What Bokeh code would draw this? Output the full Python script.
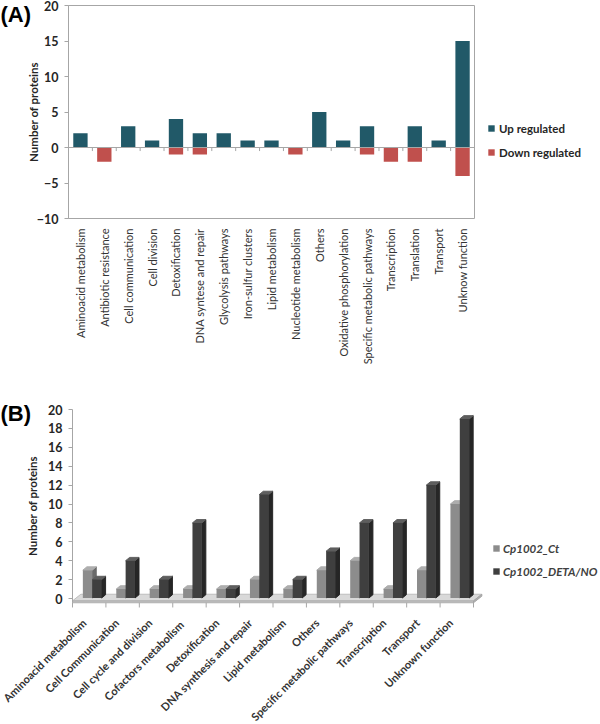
import math
from bokeh.plotting import figure
from bokeh.layouts import column
from bokeh.models import (Range1d, Legend, LegendItem, Label, FixedTicker, ColumnDataSource)
from bokeh.embed import file_html
from bokeh.resources import INLINE

# ---------------- data ----------------
cats_a = ["Aminoacid metabolism", "Antibiotic resistance", "Cell communication",
          "Cell division", "Detoxification", "DNA syntese and repair",
          "Glycolysis pathways", "Iron-sulfur clusters", "Lipid metabolism",
          "Nucleotide metabolism", "Others", "Oxidative phosphorylation",
          "Specific metabolic pathways", "Transcription", "Translation",
          "Transport", "Unknow function"]
up_a = [2, 0, 3, 1, 4, 2, 2, 1, 1, 0, 5, 1, 3, 0, 3, 1, 15]
down_a = [0, -2, 0, 0, -1, -1, 0, 0, 0, -1, 0, 0, -1, -2, -2, 0, -4]
yticks_a = [-10, -5, 0, 5, 10, 15, 20]

cats_b = ["Aminoacid metabolism", "Cell Communication", "Cell cycle and division",
          "Cofactors  metabolism", "Detoxification", "DNA synthesis and repair",
          "Lipid metabolism", "Others", "Specific metabolic pathways",
          "Transcription", "Transport", "Unknown function"]
ct_b = [3, 1, 1, 1, 1, 2, 1, 3, 4, 1, 3, 10]
deta_b = [2, 4, 2, 8, 1, 11, 2, 5, 8, 8, 12, 19]
yticks_b = [0, 2, 4, 6, 8, 10, 12, 14, 16, 18, 20]

UP = "#215968"
DOWN = "#c0504d"
GRAY = "#a6a6a6"
TXT = "#262626"

W = 600
HA, HB = 376, 348

# ---------------- panel A ----------------
na = len(cats_a)
# plot box in pixels: left 68, right 474, top 5, bottom 218
pxu_a = (474 - 68) / na
pyu_a = (218 - 5) / (yticks_a[-1] - yticks_a[0])
xr_a = Range1d(-68 / pxu_a, (W - 68) / pxu_a)
yr_a = Range1d(yticks_a[0] - (HA - 218) / pyu_a, yticks_a[-1] + 5 / pyu_a)

pa = figure(x_range=xr_a, y_range=yr_a, width=W, height=HA,
            output_backend="svg", toolbar_location=None, min_border=0)
pa.title.visible = False
pa.outline_line_color = None
pa.xgrid.visible = False
pa.ygrid.visible = False

xc_a = [i + 0.5 for i in range(na)]
src_a = ColumnDataSource(dict(x=xc_a, up=up_a, down=down_a, zero=[0] * na))
# plot box
pa.quad(left=0, right=na, bottom=yticks_a[0], top=yticks_a[-1],
        fill_color=None, line_color=GRAY, line_width=1)
r_up = pa.vbar(x="x", top="up", bottom="zero", width=0.6, source=src_a,
               fill_color=UP, line_color=None)
r_dn = pa.vbar(x="x", top="zero", bottom="down", width=0.6, source=src_a,
               fill_color=DOWN, line_color=None)
pa.segment(x0=0, x1=na, y0=0, y1=0, line_color=GRAY, line_width=1)
pa.segment(x0=list(range(1, na)), x1=list(range(1, na)), y0=0, y1=-0.5,
           line_color=GRAY, line_width=1)

ya = pa.yaxis[0]
ya.fixed_location = 0
ya.bounds = (yticks_a[0], yticks_a[-1])
ya.ticker = FixedTicker(ticks=yticks_a)
ya.minor_tick_line_color = None
ya.major_tick_out = 4
ya.major_tick_in = 0
ya.major_tick_line_color = GRAY
ya.axis_line_color = GRAY
ya.major_label_text_font = "Lato"
ya.major_label_text_font_style = "bold"
ya.major_label_text_font_size = "12.5px"
ya.major_label_text_color = TXT
ya.major_label_standoff = 6
ya.axis_label = "Number of proteins"
ya.axis_label_text_font = "Lato"
ya.axis_label_text_font_style = "bold"
ya.axis_label_text_font_size = "11.5px"
ya.axis_label_text_color = TXT
ya.axis_label_standoff = -6

xa = pa.xaxis[0]
xa.fixed_location = yticks_a[0]
xa.ticker = FixedTicker(ticks=xc_a)
xa.major_label_overrides = {x: c for x, c in zip(xc_a, cats_a)}
xa.major_label_orientation = math.pi / 2
xa.major_tick_line_color = None
xa.minor_tick_line_color = None
xa.axis_line_color = None
xa.major_label_standoff = 4
xa.major_label_text_font = "Lato"
xa.major_label_text_font_size = "11px"
xa.major_label_text_color = "#333333"

pa.add_layout(Label(x=0, y=HA - 14, x_units="screen", y_units="screen", text="(A)",
                    text_baseline="middle", text_align="left",
                    text_font="Liberation Sans", text_font_style="bold",
                    text_font_size="22px", text_color="black"))

leg_a = Legend(items=[LegendItem(label="Up regulated", renderers=[r_up]),
                      LegendItem(label="Down regulated", renderers=[r_dn])],
               location=(487, HA - 160), orientation="vertical",
               border_line_color=None, background_fill_alpha=0,
               padding=0, margin=0, spacing=8, glyph_width=8, glyph_height=8,
               label_height=16, label_standoff=4,
               label_text_font="Lato", label_text_font_style="bold",
               label_text_font_size="11.5px", label_text_color=TXT)
pa.add_layout(leg_a)

# ---------------- panel B ----------------
n = len(cats_b)
# floor front from x px 72 to 473, value 0 at y px 222, value 20 at y px 33
pxu_b = (473 - 72) / n
pyu_b = (222 - 33) / yticks_b[-1]
xr_b = Range1d(-72 / pxu_b, (W - 72) / pxu_b)
yr_b = Range1d(-(HB - 222) / pyu_b, yticks_b[-1] + 33 / pyu_b)

pb = figure(x_range=xr_b, y_range=yr_b, width=W, height=HB,
            output_backend="svg", toolbar_location=None, min_border=0)
pb.title.visible = False
pb.outline_line_color = None
pb.xgrid.visible = False
pb.ygrid.visible = False

# floor
fdx, fdy = 0.25, 0.7
pb.patch(x=[0, n, n + fdx, fdx], y=[-0.25, -0.25, -0.25 + fdy, -0.25 + fdy],
         fill_color="#d9d9d9", line_color="#bdbdbd", line_width=1)
pb.patch(x=[0, n, n, 0], y=[-0.25, -0.25, -0.45, -0.45],
         fill_color="#bfbfbf", line_color="#b0b0b0", line_width=1)
pb.patch(x=[n, n + fdx, n + fdx, n], y=[-0.25, -0.25 + fdy, -0.45 + fdy, -0.45],
         fill_color="#b0b0b0", line_color="#a6a6a6", line_width=1)
pb.segment(x0=list(range(n + 1)), x1=list(range(n + 1)),
           y0=[-0.45] * (n + 1), y1=[-0.95] * (n + 1), line_color="#a6a6a6")

bw, dx, dy, base = 0.28, 0.12, 0.35, 0.05


def bars3d(vals, off, front, side, top):
    lefts = [i + off for i in range(n)]
    rights = [l + bw for l in lefts]
    side_xs = [[r, r + dx, r + dx, r] for r in rights]
    side_ys = [[base, base + dy, v + dy, v] for v in vals]
    top_xs = [[l, r, r + dx, l + dx] for l, r in zip(lefts, rights)]
    top_ys = [[v, v, v + dy, v + dy] for v in vals]
    pb.patches(xs=side_xs, ys=side_ys, fill_color=side, line_color=side)
    pb.patches(xs=top_xs, ys=top_ys, fill_color=top, line_color=top)
    return pb.quad(left=lefts, right=rights, bottom=[base] * n, top=vals,
                   fill_color=front, line_color=None)


r_ct = bars3d(ct_b, 0.31, "#8c8c8c", "#6a6a6a", "#adadad")
r_de = bars3d(deta_b, 0.59, "#3f3f3f", "#262626", "#5e5e5e")

yb = pb.yaxis[0]
yb.fixed_location = 0
yb.bounds = (-0.45, yticks_b[-1])
yb.ticker = FixedTicker(ticks=yticks_b)
yb.minor_tick_line_color = None
yb.major_tick_out = 4
yb.major_tick_in = 0
yb.major_tick_line_color = GRAY
yb.axis_line_color = GRAY
yb.major_label_text_font = "Lato"
yb.major_label_text_font_style = "bold"
yb.major_label_text_font_size = "12.5px"
yb.major_label_text_color = TXT
yb.major_label_standoff = 6
yb.axis_label = "Number of proteins"
yb.axis_label_text_font = "Lato"
yb.axis_label_text_font_style = "bold"
yb.axis_label_text_font_size = "11.5px"
yb.axis_label_text_color = TXT
yb.axis_label_standoff = 6

# label anchors: slightly left of each category centre
xc_b = [i + 0.32 for i in range(n)]
xb = pb.xaxis[0]
xb.fixed_location = -0.45
xb.ticker = FixedTicker(ticks=xc_b)
xb.major_label_overrides = {x: c for x, c in zip(xc_b, cats_b)}
xb.major_label_orientation = math.pi / 4
xb.major_tick_line_color = None
xb.minor_tick_line_color = None
xb.axis_line_color = None
xb.major_label_standoff = 12
xb.major_label_text_font = "Lato"
xb.major_label_text_font_style = "bold"
xb.major_label_text_font_size = "11px"
xb.major_label_text_color = "#333333"

pb.add_layout(Label(x=0, y=HB - 37, x_units="screen", y_units="screen", text="(B)",
                    text_baseline="middle", text_align="left",
                    text_font="Liberation Sans", text_font_style="bold",
                    text_font_size="22px", text_color="black"))

leg_b = Legend(items=[LegendItem(label="Cp1002_Ct", renderers=[r_ct]),
                      LegendItem(label="Cp1002_DETA/NO", renderers=[r_de])],
               location=(492, HB - 203), orientation="vertical",
               border_line_color=None, background_fill_alpha=0,
               padding=0, margin=0, spacing=7, glyph_width=8, glyph_height=8,
               label_height=16, label_standoff=3,
               label_text_font="Lato", label_text_font_style="bold italic",
               label_text_font_size="11.5px", label_text_color="#404040")
pb.add_layout(leg_b)

layout = column(pa, pb, spacing=0)
open("out.html", "w").write(file_html(layout, INLINE))
